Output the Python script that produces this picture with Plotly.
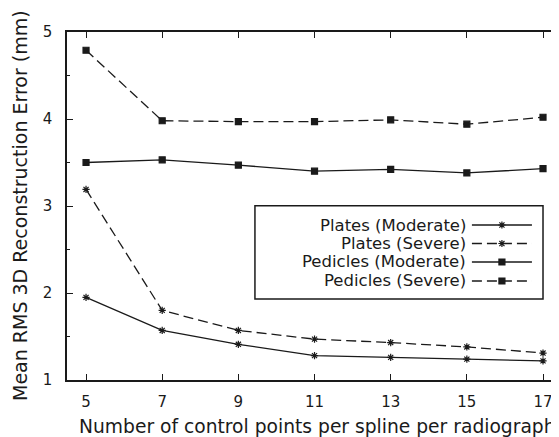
import plotly.graph_objects as go

# ---- data ----
control_points = [5, 7, 9, 11, 13, 15, 17]
plates_moderate = [1.95, 1.57, 1.41, 1.28, 1.26, 1.24, 1.22]
plates_severe = [3.19, 1.80, 1.57, 1.47, 1.43, 1.38, 1.31]
pedicles_moderate = [3.50, 3.53, 3.47, 3.40, 3.42, 3.38, 3.43]
pedicles_severe = [4.79, 3.98, 3.97, 3.97, 3.99, 3.94, 4.02]
series_names = ["Plates (Moderate)", "Plates (Severe)", "Pedicles (Moderate)", "Pedicles (Severe)"]
x_ticks = [5, 7, 9, 11, 13, 15, 17]
y_ticks = [1, 2, 3, 4, 5]
x_title = "Number of control points per spline per radiograph"
y_title = "Mean RMS 3D Reconstruction Error (mm)"

INK = "#1a1a1a"
FONT = "DejaVu Sans, Liberation Sans, Arial, sans-serif"
DASH = "10px,5px"

styles = [
    dict(symbol="asterisk-open", dash="solid"),
    dict(symbol="asterisk-open", dash=DASH),
    dict(symbol="square", dash="solid"),
    dict(symbol="square", dash=DASH),
]
series = [plates_moderate, plates_severe, pedicles_moderate, pedicles_severe]

fig = go.Figure()
for name, vals, st in zip(series_names, series, styles):
    fig.add_trace(go.Scatter(
        x=control_points, y=vals, mode="lines+markers", name=name,
        line=dict(color=INK, width=1.3, dash=st["dash"]),
        marker=dict(symbol=st["symbol"], size=6,
                    color=INK, line=dict(color=INK, width=1.2)),
        showlegend=False,
    ))

# ---- custom legend (gnuplot style: text right-aligned, sample line on the right) ----
row_y = [0.4454, 0.3922, 0.3391, 0.2845]
fig.add_shape(type="rect", xref="paper", yref="paper", x0=0.382, x1=0.9675,
              y0=0.2328, y1=0.5009, line=dict(color=INK, width=1.5), fillcolor="white", layer="below")
for name, st, yy in zip(series_names, styles, row_y):
    fig.add_annotation(xref="paper", yref="paper", x=0.815, y=yy, text=name,
                       showarrow=False, xanchor="right", yanchor="middle",
                       font=dict(family=FONT, size=16.5, color=INK))
    fig.add_trace(go.Scatter(
        x=[0.823, 0.884, 0.945], y=[yy, yy, yy], xaxis="x2", yaxis="y2",
        mode="lines", line=dict(color=INK, width=1.3, dash=st["dash"]),
        showlegend=False, hoverinfo="skip"))
    fig.add_trace(go.Scatter(
        x=[0.884], y=[yy], xaxis="x2", yaxis="y2", mode="markers",
        marker=dict(symbol=st["symbol"], size=6, color=INK, line=dict(color=INK, width=1.2)),
        showlegend=False, hoverinfo="skip"))

# axis titles
fig.add_annotation(xref="paper", yref="paper", x=0.509, y=-0.135, text=x_title,
                   showarrow=False, xanchor="center", yanchor="middle",
                   font=dict(family=FONT, size=18.7, color=INK))
fig.add_annotation(xref="paper", yref="paper", x=-0.0955, y=0.5, text=y_title,
                   showarrow=False, xanchor="center", yanchor="middle", textangle=-90,
                   font=dict(family=FONT, size=19, color=INK))

# page body has an 8px margin, so the figure is offset by 8px right and down
fig.update_layout(
    width=551, height=429,
    margin=dict(l=59, r=0, t=24, b=57),
    paper_bgcolor="white", plot_bgcolor="white",
    font=dict(family=FONT, size=15, color=INK),
    showlegend=False,
    xaxis=dict(
        range=[4.5, 17.42], tickvals=x_ticks, ticktext=[str(v) for v in x_ticks],
        ticks="inside", ticklen=6, tickwidth=1, tickcolor=INK,
        showline=True, linecolor=INK, linewidth=1.5, mirror="allticks",
        showgrid=False, zeroline=False, automargin=False,
        ticklabelstandoff=7,
        tickfont=dict(size=15),
    ),
    yaxis=dict(
        range=[1, 5], tickvals=y_ticks, ticktext=[str(v) for v in y_ticks],
        ticks="inside", ticklen=6, tickwidth=1, tickcolor=INK,
        minor=dict(dtick=0.5, ticks="inside", ticklen=3, tickcolor=INK),
        showline=True, linecolor=INK, linewidth=1.5, mirror=False,
        showgrid=False, zeroline=False, automargin=False,
        ticklabelstandoff=10,
        tickfont=dict(size=15),
    ),
    xaxis2=dict(overlaying="x", range=[0, 1], visible=False, fixedrange=True),
    yaxis2=dict(overlaying="y", range=[0, 1], visible=False, fixedrange=True),
)

fig.write_html("out.html")
